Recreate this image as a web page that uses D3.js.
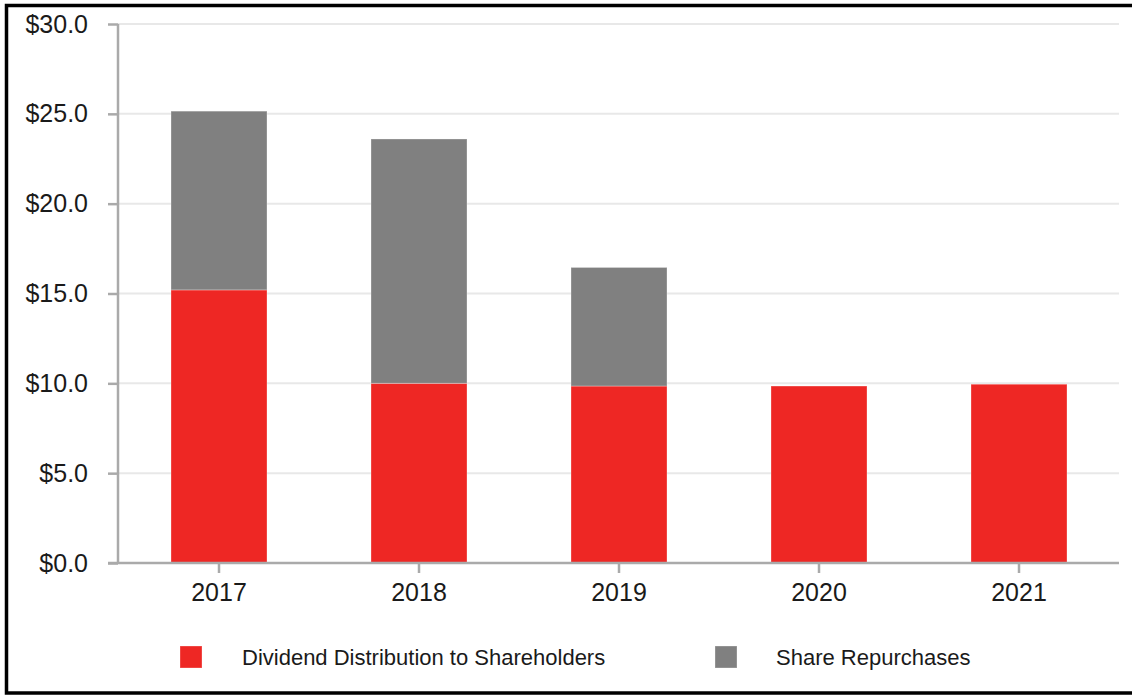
<!DOCTYPE html>
<html>
<head>
<meta charset="utf-8">
<script src="https://cdn.jsdelivr.net/npm/d3@7"></script>
<style>
  html, body { margin: 0; padding: 0; background: #fff; }
  svg { display: block; font-family: "Liberation Sans", Arial, sans-serif; }
</style>
</head>
<body>
<svg id="chart" width="1132" height="696"></svg>
<script>
var years = ['2017', '2018', '2019', '2020', '2021'];
var dividends = [15.2, 10.0, 9.85, 9.85, 9.95];
var repurchases = [9.95, 13.6, 6.6, 0, 0];
var yTicks = [0, 5, 10, 15, 20, 25, 30];
var seriesNames = ['Dividend Distribution to Shareholders', 'Share Repurchases'];
var seriesColors = ['#ee2724', '#808080'];

var svg = d3.select('#chart');
var width = 1132, height = 696;

// frame (right edge is cut off in the original)
svg.append('rect')
  .attr('x', 6.5).attr('y', 5.5)
  .attr('width', width + 20).attr('height', 687.5)
  .attr('fill', 'none')
  .attr('stroke', '#000')
  .attr('stroke-width', 3.5);

var x = d3.scaleBand()
  .domain(years)
  .range([119, 1119])
  .paddingInner(0.52)
  .paddingOuter(0.26);

var y = d3.scaleLinear()
  .domain([0, 30])
  .range([563, 24]);

// gridlines
svg.append('g')
  .selectAll('line')
  .data(yTicks.filter(function(d){ return d > 0; }))
  .enter().append('line')
  .attr('x1', 118).attr('x2', 1119)
  .attr('y1', function(d){ return y(d); })
  .attr('y2', function(d){ return y(d); })
  .attr('stroke', '#e8e8e8')
  .attr('stroke-width', 2);

// stacked bars
var rows = years.map(function(yr, i){
  return { year: yr, div: dividends[i], rep: repurchases[i] };
});
var stack = d3.stack().keys(['div', 'rep'])(rows);

svg.append('g')
  .selectAll('g')
  .data(stack)
  .enter().append('g')
  .attr('fill', function(d, i){ return seriesColors[i]; })
  .selectAll('rect')
  .data(function(d){ return d.filter(function(s){ return s[1] - s[0] > 0; }); })
  .enter().append('rect')
  .attr('x', function(d){ return x(d.data.year); })
  .attr('width', x.bandwidth())
  .attr('y', function(d){ return y(d[1]); })
  .attr('height', function(d){ return y(d[0]) - y(d[1]); })
  .attr('stroke', '#fff')
  .attr('stroke-opacity', 0.3)
  .attr('stroke-width', 1);

// y axis
var yAxis = svg.append('g')
  .attr('transform', 'translate(118,0)')
  .call(d3.axisLeft(y).tickValues(yTicks).tickSize(10).tickPadding(20)
    .tickFormat(function(d){ return '$' + d3.format('.1f')(d); }));
yAxis.select('.domain').attr('stroke', '#aaa').attr('stroke-width', 2.5)
  .attr('d', 'M0,' + y(30) + 'V' + y(0));
yAxis.selectAll('.tick line').attr('stroke', '#aaa').attr('stroke-width', 2.5);
yAxis.selectAll('.tick text')
  .attr('fill', '#1a1a1a')
  .style('font-size', '25px')
  .style('font-family', '"Liberation Sans", Arial, sans-serif');

// x axis
var xAxis = svg.append('g')
  .attr('transform', 'translate(0,563)')
  .call(d3.axisBottom(x).tickSize(10).tickPadding(10));
xAxis.select('.domain').attr('stroke', '#aaa').attr('stroke-width', 2.5)
  .attr('d', 'M108,0H1119');
xAxis.selectAll('.tick line').attr('stroke', '#aaa').attr('stroke-width', 2.5);
xAxis.selectAll('.tick text')
  .attr('fill', '#1a1a1a')
  .style('font-size', '25px')
  .style('font-family', '"Liberation Sans", Arial, sans-serif');

// legend
var legendX = [180, 715];
var legend = svg.append('g')
  .selectAll('g')
  .data(seriesNames)
  .enter().append('g')
  .attr('transform', function(d, i){ return 'translate(' + legendX[i] + ',646)'; });
legend.append('rect')
  .attr('width', 22).attr('height', 22)
  .attr('fill', function(d, i){ return seriesColors[i]; })
  .attr('stroke', '#fff').attr('stroke-opacity', 0.3);
legend.append('text')
  .attr('x', function(d, i){ return i === 0 ? 62 : 61; })
  .attr('y', 19)
  .attr('fill', '#1a1a1a')
  .style('font-size', '22px')
  .text(function(d){ return d; });
</script>
</body>
</html>
